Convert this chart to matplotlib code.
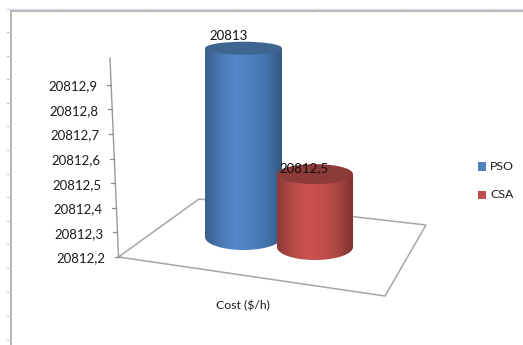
import numpy as np
import matplotlib
matplotlib.use("Agg")
import matplotlib.pyplot as plt
from matplotlib.colors import LinearSegmentedColormap
from matplotlib.patches import Polygon, Rectangle, Ellipse

plt.rcParams['font.family'] = ['Lato', 'DejaVu Sans']

series_names = ["PSO", "CSA"]
series_values = [20813.0, 20812.5]
value_labels = ["20813", "20812,5"]
axis_ticks = [20812.2, 20812.3, 20812.4, 20812.5, 20812.6, 20812.7, 20812.8, 20812.9]
category = "Cost ($/h)"
BASE = 20812.2

BLUE = ["#3b5f8e", "#4a78b2", "#5588cb", "#4f80bf", "#4373ad", "#35587f"]
RED = ["#8c3a38", "#b24a47", "#cb5250", "#c44e4c", "#aa4643", "#7f3433"]
TOP_COLOURS = ["#3f6591", "#8c3b39"]
LEGEND_COLOURS = ["#4f81bd", "#c0504d"]

# Pixel geometry of the oblique projection
AXIS_BOTTOM = (118.5, 257.0)
AXIS_TOP = (110.0, 58.0)
AXIS_SCALE = 246.0
FLOOR = [(118.5, 257), (199, 199), (426, 225), (385, 296)]
CYLINDERS = [
    dict(cx=243.5, rx=38.5, base=237, scale=236.0, ry_base=13, ry_top=6.5),
    dict(cx=315.0, rx=38.0, base=247, scale=243.0, ry_base=13, ry_top=10),
]

fig = plt.figure(figsize=(5.23, 3.45), dpi=100, facecolor="white")
ax = fig.add_axes([0, 0, 1, 1])
ax.set_xlim(0, 523)
ax.set_ylim(345, 0)
ax.axis("off")

# Worksheet ruler lines around the chart
ax.plot([7, 523], [8.5, 8.5], color="#d5dcea", lw=1.0, zorder=1)
ax.plot([10.5, 523], [11, 11], color="#b4b4b4", lw=1.4, zorder=1)
ax.plot([10.5, 10.5], [11, 345], color="#b4b4b4", lw=1.4, zorder=1)
for x in [60, 146, 233, 319, 405, 491]:
    ax.plot([x, x], [8.5, 11], color="#c8c8c8", lw=0.8, zorder=1)
for y in [32, 56, 79, 103, 126, 150, 174, 197, 221, 244, 268, 292, 316, 340]:
    ax.plot([7, 10.5], [y, y], color="#c8c8c8", lw=0.8, zorder=1)

# Floor outline and value axis
ax.add_patch(Polygon(FLOOR, closed=True, fill=False, edgecolor="#a6a6a6", lw=1.1, zorder=2))
ax.plot([AXIS_BOTTOM[0], AXIS_TOP[0]], [AXIS_BOTTOM[1], AXIS_TOP[1]], color="#9a9a9a", lw=1.0, zorder=2)


def axis_y(v):
    return AXIS_BOTTOM[1] - (v - BASE) * AXIS_SCALE


def axis_x(v):
    y = axis_y(v)
    t = (AXIS_BOTTOM[1] - y) / (AXIS_BOTTOM[1] - AXIS_TOP[1])
    return AXIS_BOTTOM[0] + t * (AXIS_TOP[0] - AXIS_BOTTOM[0])


for v in axis_ticks:
    x, y = axis_x(v), axis_y(v)
    ax.plot([x - 4, x], [y, y], color="#8c8c8c", lw=0.9, zorder=2)
    ax.text(x - 13.5, y + 1.5, f"{v:.1f}".replace(".", ","), ha="right", va="center",
            fontsize=9.5, color="#1c1c1c", zorder=5)


def draw_cylinder(value, geom, stops, top_colour, z):
    cx, rx, base = geom["cx"], geom["rx"], geom["base"]
    y_top = base - (value - BASE) * geom["scale"]
    theta = np.linspace(0, np.pi, 60)
    lower = np.c_[cx + rx * np.cos(theta), base + geom["ry_base"] * np.sin(theta)]
    outline = np.vstack([[cx + rx, y_top], lower, [cx - rx, y_top]])
    body = Polygon(outline, closed=True, facecolor="none", edgecolor="none",
                   transform=ax.transData)
    ax.add_patch(body)
    cmap = LinearSegmentedColormap.from_list("shade", stops)
    image = ax.imshow(np.linspace(0, 1, 256)[None, :], cmap=cmap, aspect="auto",
                      extent=(cx - rx, cx + rx, base + geom["ry_base"], y_top - 1),
                      zorder=z, interpolation="bilinear")
    image.set_clip_path(body)
    ax.add_patch(Ellipse((cx, y_top), 2 * rx, 2 * geom["ry_top"], facecolor=top_colour,
                         edgecolor="none", zorder=z + 0.1))
    return y_top


for value, geom, stops, top, z in zip(series_values, CYLINDERS, [BLUE, RED], TOP_COLOURS, [3, 3.5]):
    draw_cylinder(value, geom, stops, top, z)

# imshow resets the limits, so restore the pixel frame
ax.set_xlim(0, 523)
ax.set_ylim(345, 0)

ax.text(228.5, 35.5, value_labels[0], ha="center", va="center", fontsize=9.5, color="#111111", zorder=6)
ax.text(303.5, 168, value_labels[1], ha="center", va="center", fontsize=9.5, color="#111111", zorder=6)
ax.text(243, 306, category, ha="center", va="center", fontsize=8.8, color="#1c1c1c", zorder=6)

# Legend
for name, colour, y in zip(series_names, LEGEND_COLOURS, [166, 194.5]):
    ax.add_patch(Rectangle((478, y - 4), 7.5, 8.5, facecolor=colour, edgecolor="none", zorder=5))
    ax.text(490, y + 0.5, name, ha="left", va="center", fontsize=8.9, color="#1c1c1c", zorder=6)

fig.savefig("out.png", dpi=100, facecolor="white")
